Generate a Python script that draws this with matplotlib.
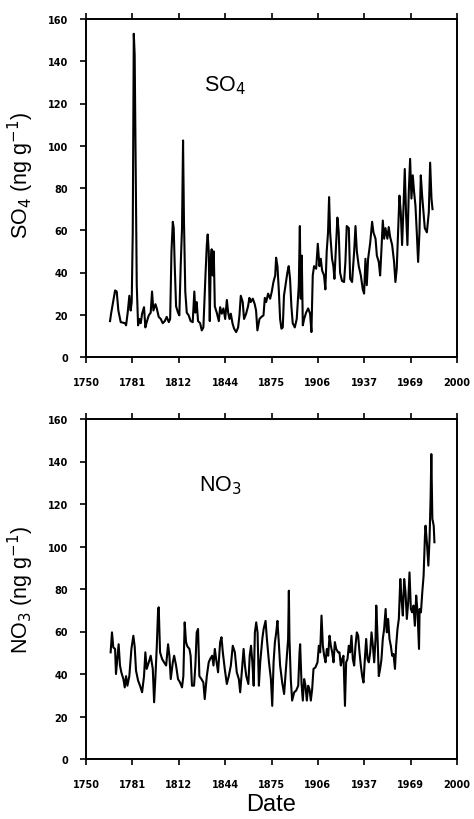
import numpy as np
import matplotlib
matplotlib.use("Agg")
import matplotlib.pyplot as plt

# SO4 record (ng/g) by year
so4_year = [1766.2, 1766.9, 1769.6, 1770.7, 1771.8, 1773.4, 1776.3, 1777.0, 1778.1, 1779.2,
            1780.1, 1780.8, 1781.5, 1782.2, 1782.8, 1783.5, 1784.2, 1785.1, 1786.0, 1786.9,
            1787.8, 1789.1, 1790.0, 1790.9, 1792.3, 1793.6, 1794.5, 1795.4, 1796.8, 1797.7,
            1799.0, 1800.4, 1801.7, 1803.1, 1804.4, 1805.8, 1806.7, 1807.6, 1808.5, 1809.1,
            1809.8, 1810.7, 1812.0, 1812.9, 1813.8, 1814.7, 1815.4, 1816.0, 1816.9, 1817.9,
            1819.2, 1820.5, 1821.9, 1823.0, 1823.7, 1824.6, 1825.5, 1826.9, 1828.0, 1829.1,
            1830.5, 1831.4, 1832.0, 1832.7, 1833.4, 1834.1, 1834.7, 1835.4, 1836.1, 1836.8,
            1838.1, 1839.5, 1840.4, 1841.5, 1842.6, 1843.8, 1844.9, 1845.8, 1846.7, 1847.6,
            1848.7, 1849.8, 1851.2, 1852.5, 1853.4, 1854.3, 1855.6, 1856.5, 1857.9, 1859.2,
            1860.1, 1861.0, 1862.4, 1863.7, 1864.6, 1865.5, 1866.9, 1868.2, 1869.6, 1870.5,
            1871.4, 1872.7, 1874.1, 1875.2, 1876.3, 1877.5, 1878.1, 1879.0, 1879.9, 1880.8,
            1881.7, 1882.6, 1883.4, 1884.8, 1885.7, 1886.6, 1887.5, 1888.4, 1889.3, 1890.7,
            1892.0, 1893.4, 1894.1, 1894.7, 1895.4, 1896.1, 1897.0, 1898.3, 1899.7, 1901.0,
            1901.9, 1902.8, 1903.7, 1905.1, 1906.2, 1907.3, 1908.2, 1909.1, 1910.4, 1911.3,
            1912.2, 1913.1, 1913.8, 1914.5, 1915.8, 1916.7, 1917.4, 1918.5, 1919.4, 1920.3,
            1921.2, 1922.5, 1923.9, 1924.8, 1925.7, 1927.1, 1928.0, 1929.3, 1930.7, 1931.6,
            1932.5, 1933.8, 1935.2, 1936.5, 1937.4, 1938.3, 1939.2, 1940.1, 1941.5, 1942.8,
            1943.7, 1945.1, 1946.0, 1947.3, 1948.2, 1949.1, 1950.0, 1950.9, 1951.8, 1953.1,
            1954.0, 1954.9, 1956.3, 1957.6, 1958.5, 1959.4, 1960.3, 1961.2, 1962.1, 1963.0,
            1963.9, 1964.8, 1965.7, 1966.6, 1967.5, 1968.4, 1969.3, 1970.2, 1971.1, 1972.0,
            1972.9, 1973.8, 1974.7, 1975.6, 1976.5, 1977.4, 1978.3, 1979.7, 1981.0, 1981.9,
            1982.8, 1983.5]
so4_val = [17, 20.5, 31.5, 31, 22, 16.5, 16, 15, 21, 29,
           22, 26, 59, 153, 143, 90, 34, 15, 18, 16,
           20.5, 23.6, 14, 16.5, 19.7, 21, 31, 22, 25, 23,
           19, 18, 16, 17, 19, 16.5, 18, 50, 64, 61,
           43, 24, 21, 19.7, 43, 61, 102.5, 65, 31, 21,
           19.7, 17, 16.5, 31, 21, 26, 17, 16, 12.6, 14,
           38.6, 53, 58, 50, 17, 46.5, 51, 38.6, 50, 24,
           21, 17, 23.6, 20.5, 23, 18, 27, 21, 18, 20.5,
           16, 13.4, 11.8, 14, 19.7, 29, 26, 18, 20.5, 24,
           28, 26, 27.6, 25, 22, 12.6, 18, 19, 19.7, 28,
           26, 30, 27.6, 31, 35.5, 38.6, 47, 43, 32, 18,
           13.4, 14, 29, 35.5, 40, 43, 37, 24, 16, 14,
           18, 34, 62, 27.6, 48, 15, 18, 21, 23, 20.5,
           11.8, 38.6, 43, 41.8, 53.6, 43, 46.5, 41, 38.6, 32,
           50, 59, 75.7, 59, 46.5, 43, 37, 53, 66, 59,
           40, 36, 35.5, 45, 62, 61, 37, 35.5, 50, 62,
           50, 43, 38.6, 32, 30, 46.5, 34, 46.5, 54, 64,
           59, 56, 48, 45, 38.6, 51, 64.6, 56, 61, 56,
           61.5, 57, 53, 45, 35.5, 41.8, 59, 76.4, 68.6, 53,
           70, 89, 67, 53, 78, 93.8, 75, 86, 78, 71.7,
           59, 45, 59, 86, 76.4, 68.6, 61, 59, 68.6, 92,
           75, 70]

# NO3 record (ng/g) by year
no3_year = [1766.6, 1767.5, 1768.4, 1769.6, 1770.2, 1771.1, 1772.0, 1772.9, 1773.8, 1775.2,
            1776.1, 1777.0, 1777.9, 1779.2, 1780.6, 1781.9, 1782.8, 1783.7, 1785.1, 1786.4,
            1787.8, 1789.1, 1790.0, 1790.9, 1792.3, 1793.6, 1795.0, 1795.9, 1796.8, 1797.7,
            1798.6, 1799.0, 1799.9, 1801.3, 1802.6, 1804.0, 1805.3, 1806.2, 1807.1, 1808.5,
            1809.4, 1810.7, 1812.0, 1813.4, 1814.7, 1815.6, 1816.5, 1817.4, 1818.3, 1819.7,
            1820.5, 1821.4, 1822.8, 1823.7, 1824.6, 1825.5, 1826.4, 1827.8, 1829.1, 1830.0,
            1831.4, 1832.7, 1833.6, 1835.0, 1835.9, 1836.8, 1837.7, 1839.0, 1840.4, 1841.3,
            1842.2, 1843.5, 1844.9, 1846.2, 1847.6, 1848.9, 1850.3, 1851.6, 1853.0, 1853.9,
            1855.3, 1856.2, 1857.1, 1858.0, 1859.4, 1860.3, 1861.2, 1862.1, 1863.0, 1863.8,
            1864.7, 1865.6, 1866.5, 1867.4, 1868.8, 1869.7, 1871.0, 1871.9, 1873.3, 1874.6,
            1875.5, 1876.4, 1877.3, 1878.2, 1879.0, 1879.9, 1880.8, 1882.2, 1883.5, 1884.9,
            1886.2, 1886.7, 1887.1, 1888.0, 1888.9, 1890.3, 1891.6, 1893.0, 1893.9, 1894.3,
            1895.2, 1896.1, 1897.0, 1897.9, 1898.8, 1899.7, 1900.6, 1901.5, 1902.4, 1903.3,
            1904.6, 1906.0, 1906.9, 1907.8, 1908.7, 1909.6, 1910.5, 1911.4, 1912.3, 1913.2,
            1914.1, 1915.0, 1915.9, 1916.8, 1917.7, 1918.6, 1919.9, 1920.8, 1921.7, 1922.6,
            1923.5, 1924.5, 1925.3, 1926.2, 1927.1, 1928.0, 1928.9, 1929.8, 1930.7, 1931.6,
            1932.5, 1933.4, 1934.3, 1935.2, 1936.1, 1937.0, 1937.9, 1938.8, 1939.7, 1940.6,
            1941.5, 1942.4, 1943.3, 1944.2, 1945.1, 1945.6, 1946.5, 1947.3, 1948.2, 1949.1,
            1950.0, 1950.9, 1951.9, 1952.7, 1953.6, 1954.5, 1955.4, 1956.3, 1957.2, 1958.2,
            1959.0, 1959.9, 1960.8, 1961.8, 1962.6, 1963.5, 1964.4, 1965.3, 1966.2, 1967.1,
            1968.0, 1968.9, 1969.8, 1970.7, 1971.6, 1972.5, 1973.4, 1974.4, 1974.8, 1975.7,
            1976.6, 1977.5, 1978.4, 1978.8, 1979.7, 1980.7, 1981.5, 1982.2, 1982.7, 1983.4,
            1984.3, 1984.8]
no3_val = [50.2, 59.6, 52.5, 51.8, 40, 47, 54, 44, 40.8, 37.6,
           33.7, 39, 34.5, 39, 51.8, 58, 53, 41.6, 36.9, 34.5,
           31.4, 39, 50.2, 42.4, 45.5, 48.6, 42.4, 26.7, 39, 53,
           70.6, 71.4, 50.2, 47, 45.5, 44, 54, 48.6, 37.6, 45.5,
           48.6, 44, 37.6, 36, 33.7, 39, 64.3, 55, 53, 51.8,
           48.6, 34.5, 34.5, 44, 59.6, 61.2, 39, 37.6, 36, 28.2,
           39, 45.5, 47, 48.6, 44, 51.8, 47, 40.8, 55, 57.3,
           50.2, 42.4, 35.3, 39, 44, 53.3, 50.2, 40.8, 37.6, 31.4,
           44, 51.8, 44, 39, 35.3, 48.6, 53.3, 45.5, 34.5, 59.6,
           64.3, 59.6, 34.5, 45.5, 56.5, 61.2, 65, 56.5, 45.5, 37.6,
           25, 45.5, 55, 59.6, 65, 55, 44, 36, 30.6, 44,
           56.5, 79.2, 56.5, 37.6, 27.5, 31.4, 32.2, 34.5, 50.2, 54,
           36, 27.5, 37.6, 34.5, 27.5, 34.5, 32.9, 27.5, 32.9, 42.4,
           43.1, 45.5, 53.3, 50.2, 67.5, 53.3, 48.6, 45.5, 51.8, 48.6,
           58, 53.3, 50.2, 45.5, 55, 51.8, 50.2, 50.2, 44, 47,
           48.6, 25, 45.5, 47, 53.3, 50.2, 58, 47, 44, 53.3,
           59.6, 58, 50.2, 44, 39, 36, 47, 56.5, 47, 45.5,
           50.2, 59.6, 53.3, 45.5, 56.5, 72.2, 56.5, 39, 42.4, 47,
           56.5, 61.2, 70.6, 59.6, 65.9, 56.5, 53.3, 48.6, 49.4, 42.4,
           53.3, 61.2, 65.9, 84.7, 75.3, 67.5, 84.7, 78.4, 65.9, 73.7,
           87.8, 70.6, 69, 72.2, 62.7, 76.9, 69, 51.8, 70.6, 69,
           78.4, 86.3, 105, 109.8, 102, 91, 103.5, 122.4, 143.5, 113,
           109.8, 102]

year_ticks = np.linspace(1750, 2000, 9)
year_labels = ["1750", "1781", "1812", "1844", "1875", "1906", "1937", "1969", "2000"]
conc_ticks = [0, 20, 40, 60, 80, 100, 120, 140, 160]

label_font = "Liberation Sans"

fig = plt.figure(figsize=(4.74, 8.2), dpi=100)
ax_so4 = fig.add_axes([86 / 474, 1 - 358 / 820, 371 / 474, 338 / 820])
ax_no3 = fig.add_axes([86 / 474, 1 - 760 / 820, 371 / 474, 340 / 820])


def style_panel(ax, ylabel, label_y, name, name_xy):
    ax.set_xlim(1750, 2000)
    ax.set_ylim(0, 160)
    ax.set_xticks(year_ticks)
    ax.set_xticklabels(year_labels)
    ax.set_yticks(conc_ticks)
    ax.tick_params(axis="both", direction="out", length=4.5, width=1.2,
                   labelsize=7, top=True, right=False)
    ax.tick_params(axis="x", pad=10)
    ax.tick_params(axis="y", pad=8.5)
    for lab in ax.get_xticklabels() + ax.get_yticklabels():
        lab.set_fontweight("bold")
    for sp in ax.spines.values():
        sp.set_linewidth(1.4)
    ax.set_ylabel(ylabel, fontsize=15.5, family=label_font)
    ax.yaxis.set_label_coords(-0.135, label_y)
    ax.text(name_xy[0], name_xy[1], name, fontsize=15.5, family=label_font,
            ha="center", va="center")


ax_so4.plot(so4_year, so4_val, color="black", lw=1.5)
style_panel(ax_so4, r"SO$_4$ (ng g$^{-1}$)", 0.54, r"SO$_4$", (1843.5, 129))

ax_no3.plot(no3_year, no3_val, color="black", lw=1.5)
style_panel(ax_no3, r"NO$_3$ (ng g$^{-1}$)", 0.5, r"NO$_3$", (1840.5, 129))
ax_no3.set_xlabel("Date", fontsize=17, family=label_font, labelpad=3)

fig.savefig("out.png", dpi=100)
